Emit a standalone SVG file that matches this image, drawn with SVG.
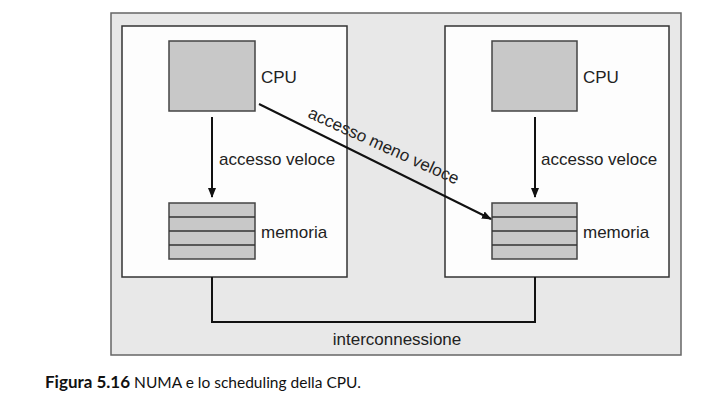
<svg xmlns="http://www.w3.org/2000/svg" width="704" height="410" viewBox="0 0 704 410">
<defs>
<style>
.lbl{font-family:"Liberation Sans",Arial,sans-serif;font-size:17px;fill:#222}
.box{fill:#c8c8c8;stroke:#444;stroke-width:1.5}
.ln{stroke:#111;stroke-width:2;fill:none}
.node{fill:#fdfdfd;stroke:#333;stroke-width:1.5}
.cap{font-family:Lato,"Open Sans",sans-serif;fill:#111}
</style>
<marker id="ah" markerWidth="10" markerHeight="10" refX="9" refY="5" orient="auto" markerUnits="userSpaceOnUse">
<path d="M0,1 L10,5 L0,9 z" fill="#111"/>
</marker>
</defs>
<rect width="704" height="410" fill="#fff"/>
<rect x="111" y="13" width="570" height="342" fill="#e8e8e8" stroke="#666" stroke-width="1.5"/>
<g id="nodo1">
<rect class="node" x="122" y="26" width="225" height="251"/>
<g id="cpu1"><rect class="box" x="169" y="41" width="86" height="70"/><text class="lbl" x="261" y="83">CPU</text></g>
<g id="mem1"><rect class="box" x="169" y="203" width="86" height="56"/>
<path d="M169,217H255M169,231H255M169,245H255" stroke="#333" stroke-width="1.5"/>
<text class="lbl" x="261" y="238">memoria</text></g>
</g>
<g id="nodo2">
<rect class="node" x="445" y="26" width="224" height="251"/>
<g id="cpu2"><rect class="box" x="492" y="41" width="85" height="70"/><text class="lbl" x="583" y="83">CPU</text></g>
<g id="mem2"><rect class="box" x="492" y="203" width="85" height="56"/>
<path d="M492,217H577M492,231H577M492,245H577" stroke="#333" stroke-width="1.5"/>
<text class="lbl" x="583" y="238">memoria</text></g>
</g>
<g id="connettori">
<line class="ln" x1="259" y1="104" x2="491" y2="219" marker-end="url(#ah)"/>
<line class="ln" x1="212" y1="117" x2="212" y2="197" marker-end="url(#ah)"/>
<line class="ln" x1="535" y1="117" x2="535" y2="197" marker-end="url(#ah)"/>
<path class="ln" d="M212,277V322H535V277"/>
</g>
<text class="lbl" x="219" y="165">accesso veloce</text>
<text class="lbl" x="541" y="165">accesso veloce</text>
<text class="lbl" font-size="17.5" transform="translate(307,117) rotate(24.5)">accesso meno veloce</text>
<text class="lbl" font-size="17.5" x="397" y="345" text-anchor="middle">interconnessione</text>
<text class="cap" x="45" y="388"><tspan font-weight="bold" font-size="17">Figura 5.16</tspan><tspan font-size="15.5"> NUMA e lo scheduling della CPU.</tspan></text>
</svg>
